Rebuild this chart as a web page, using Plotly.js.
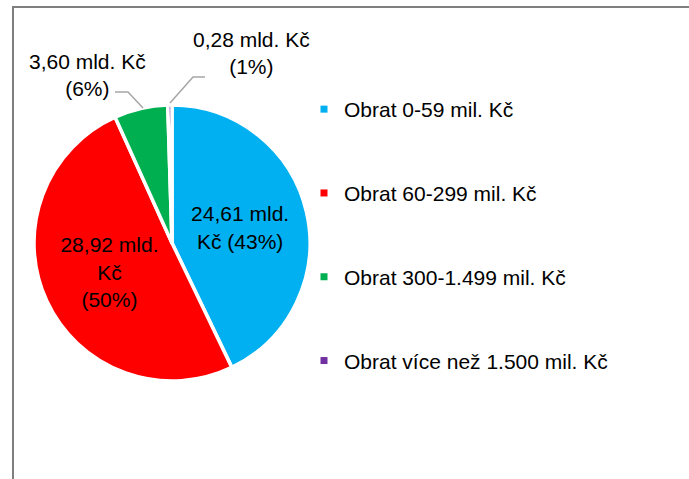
<!DOCTYPE html>
<html>
<head>
<meta charset="utf-8">
<script src="https://cdn.plot.ly/plotly-3.0.1.min.js"></script>
<style>
  html, body { margin: 0; padding: 0; background: #ffffff; overflow: hidden; }
  #wrap { position: relative; width: 689px; height: 479px; }
  #frame { position: absolute; left: 12px; top: 6px; width: 700px; height: 500px;
           border-left: 2px solid #7f7f7f; border-top: 2px solid #7f7f7f; box-sizing: border-box; }
  #chart { position: absolute; left: 0; top: 0; width: 689px; height: 479px; }
</style>
</head>
<body>
<div id="wrap">
  <div id="frame"></div>
  <div id="chart"></div>
</div>
<script>
// ---- data ----
const categories = ["Obrat 0-59 mil. Kč", "Obrat 60-299 mil. Kč", "Obrat 300-1.499 mil. Kč", "Obrat více než 1.500 mil. Kč"];
const values = [24.61, 28.92, 3.60, 0.28];
const valueLabels = ["24,61", "28,92", "3,60", "0,28"];
const pctLabels = ["43%", "50%", "6%", "1%"];
const colors = ["#00B0F0", "#FF0000", "#00B050", "#7030A0"];

// ---- layout helpers ----
const W = 689, H = 479;
const px = x => x / W;
const py = y => 1 - y / H;
const FONT = "Liberation Sans, Arial, sans-serif";

// inside labels for the two big slices, outside (annotations) for the small ones
const insideText = [
  valueLabels[0] + " mld.<br>Kč (" + pctLabels[0] + ")",
  valueLabels[1] + " mld.<br>Kč<br>(" + pctLabels[1] + ")",
  "", ""
];

const pie = {
  type: "pie",
  labels: categories,
  values: values,
  text: insideText,
  textinfo: "text",
  texttemplate: "%{text}",
  textposition: ["inside", "inside", "none", "none"],
  insidetextorientation: "horizontal",
  insidetextfont: { family: FONT, size: 21, color: "#000000" },
  sort: false,
  direction: "clockwise",
  rotation: 0,
  marker: { colors: colors, line: { color: "#ffffff", width: 3.5 } },
  domain: { x: [px(34), px(310)], y: [py(382), py(104)] },
  showlegend: false,
  hoverinfo: "label+value+percent"
};

// legend entries (one per category) so that the legend can be spaced like the original
const legendTraces = categories.map((c, i) => ({
  type: "scatter",
  mode: "markers",
  x: [null], y: [null],
  name: c,
  legendgroup: "g" + i,
  marker: { symbol: "square", size: 7, color: colors[i] },
  showlegend: true,
  hoverinfo: "skip"
}));

const outsideIdx = [2, 3];
const outsidePos = { 2: [87, 75], 3: [251, 53] };
const annotations = outsideIdx.map(i => ({
  xref: "paper", yref: "paper",
  x: px(outsidePos[i][0]), y: py(outsidePos[i][1]),
  xanchor: "center", yanchor: "middle",
  text: valueLabels[i] + " mld. Kč<br>(" + pctLabels[i] + ")",
  showarrow: false,
  font: { family: FONT, size: 21, color: "#000000" }
}));

const leader = (pts) => ({
  type: "path", xref: "paper", yref: "paper",
  path: pts.map((p, k) => (k ? "L" : "M") + px(p[0]) + "," + py(p[1])).join(" "),
  line: { color: "#a6a6a6", width: 1.5 }
});
const shapes = [
  leader([[115, 92], [128, 92], [143, 108]]),
  leader([[205, 77], [193, 77], [170, 103]])
];

const layout = {
  width: W, height: H,
  margin: { l: 0, r: 0, t: 0, b: 0 },
  paper_bgcolor: "rgba(0,0,0,0)",
  plot_bgcolor: "rgba(0,0,0,0)",
  xaxis: { visible: false, domain: [0.99, 1] },
  yaxis: { visible: false, domain: [0.99, 1] },
  showlegend: true,
  legend: {
    x: px(304), y: py(89), xanchor: "left", yanchor: "top",
    font: { family: FONT, size: 21, color: "#000000" },
    tracegroupgap: 53.5,
    bgcolor: "rgba(0,0,0,0)",
    traceorder: "grouped"
  },
  annotations: annotations,
  shapes: shapes,
  font: { family: FONT }
};

Plotly.newPlot("chart", [pie].concat(legendTraces), layout, { displayModeBar: false, staticPlot: true });
</script>
</body>
</html>
